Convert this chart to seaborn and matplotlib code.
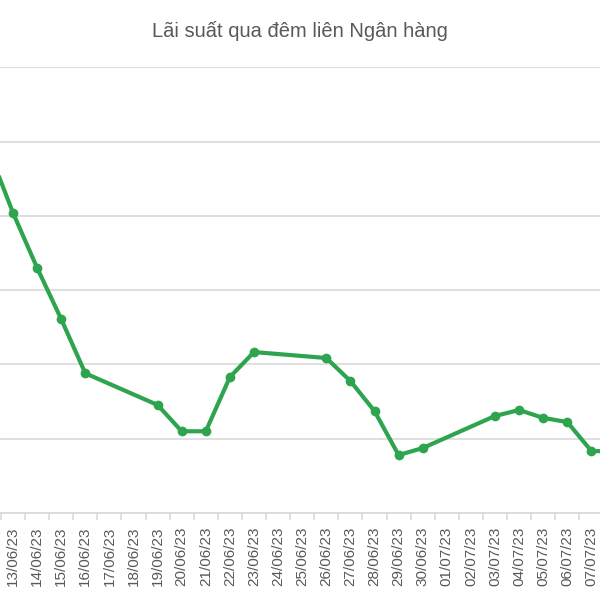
import numpy as np
import pandas as pd
import matplotlib
matplotlib.use("Agg")
import matplotlib.pyplot as plt
import seaborn as sns

# du lieu doc tu hinh (truc y khong co nhan, bi cat)
ngay = ['12/06/23', '13/06/23', '14/06/23', '15/06/23', '16/06/23',
        '19/06/23', '20/06/23', '21/06/23', '22/06/23', '23/06/23',
        '26/06/23', '27/06/23', '28/06/23', '29/06/23', '30/06/23',
        '03/07/23', '04/07/23', '05/07/23', '06/07/23', '07/07/23', '10/07/23']
lai_suat = [2.44, 2.02, 1.65, 1.305, 0.94,
            0.727, 0.55, 0.55, 0.915, 1.083,
            1.043, 0.888, 0.686, 0.39, 0.437,
            0.653, 0.693, 0.64, 0.612, 0.417, 0.41]
nhan_truc_x = pd.date_range('2023-06-13', '2023-07-10').strftime('%d/%m/%y').tolist()
tieu_de = 'Lãi suất qua đêm liên Ngân hàng'

goc = pd.Timestamp('2023-06-13')
df = pd.DataFrame({'ngay': ngay, 'lai_suat': lai_suat})
df['x'] = (pd.to_datetime(df['ngay'], format='%d/%m/%y') - goc).dt.days

sns.set_style('white')
plt.rcParams['font.family'] = ['Liberation Sans', 'DejaVu Sans']

fig = plt.figure(figsize=(6, 6), dpi=100)
ax = fig.add_axes([0, 0.145, 1, 0.743])

sns.lineplot(data=df, x='x', y='lai_suat', ax=ax, color='#2ea44f',
             linewidth=3, marker='o', markersize=7, markeredgewidth=0)

ax.set_yticks(np.arange(0, 3.01, 0.5))
ax.yaxis.grid(True, color='#d9d9d9', linewidth=1.2)
ax.set_axisbelow(True)
ax.tick_params(axis='y', left=False, labelleft=False)

ax.set_xticks(range(len(nhan_truc_x)))
ax.set_xticklabels(nhan_truc_x, rotation=90, fontsize=11, color='#595959')
ax.set_xticks(np.arange(-0.5, len(nhan_truc_x), 1), minor=True)
ax.tick_params(axis='x', which='major', length=0, pad=10)
ax.tick_params(axis='x', which='minor', length=5, color='#d9d9d9', width=1.2,
               direction='out', bottom=True)
ax.set_xlabel('')
ax.set_ylabel('')

# gioi han dat sau ticks de khong bi mo rong
buoc = 24.1
ax.set_xlim(-13 / buoc, -13 / buoc + 600 / buoc)
ax.set_ylim(0, 3)

for s in ['top', 'left', 'right']:
    ax.spines[s].set_visible(False)
ax.spines['bottom'].set_color('#d9d9d9')
ax.spines['bottom'].set_linewidth(1.2)

fig.text(0.5, 0.948, tieu_de, ha='center', va='center', fontsize=14.5, color='#595959')

fig.savefig('out.png', dpi=100)
